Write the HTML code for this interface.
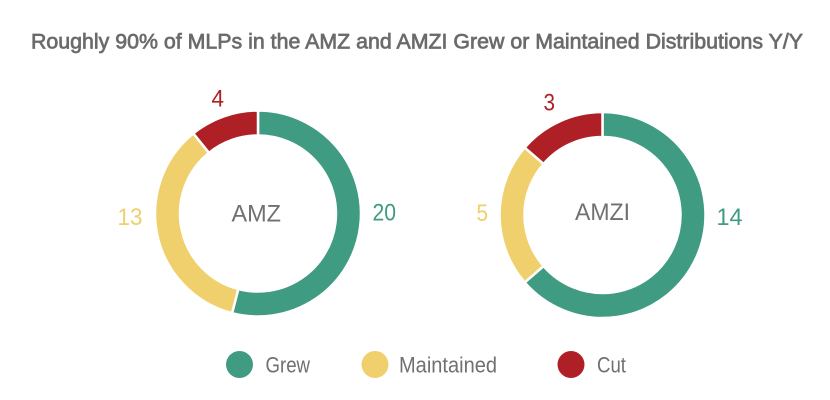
<!DOCTYPE html>
<html>
<head>
<meta charset="utf-8">
<style>
  html,body{margin:0;padding:0;background:#fff;}
  svg{display:block;}
  text{font-family:"Liberation Sans",sans-serif;}
</style>
</head>
<body>
<svg width="830" height="400" viewBox="0 0 830 400" xmlns="http://www.w3.org/2000/svg">
  <rect width="830" height="400" fill="#ffffff"/>
  <!-- Title -->
  <text x="31" y="48.5" font-size="21" fill="#6b6b6b" stroke="#6b6b6b" stroke-width="0.7" textLength="772" lengthAdjust="spacingAndGlyphs">Roughly 90% of MLPs in the AMZ and AMZI Grew or Maintained Distributions Y/Y</text>

  <!-- Donut 1 -->
  <g stroke="#ffffff" stroke-width="2.5" stroke-linejoin="miter">
    <path d="M258,110.5 A103,103 0 1 1 232.05,313.18 L238.35,288.99 A78,78 0 1 0 258,135.5 Z" fill="#3f9b82"/>
    <path d="M232.05,313.18 A103,103 0 0 1 193.29,133.39 L208.99,152.83 A78,78 0 0 0 238.35,288.99 Z" fill="#efd06c"/>
    <path d="M193.29,133.39 A103,103 0 0 1 258,110.5 L258,135.5 A78,78 0 0 0 208.99,152.83 Z" fill="#ae1f26"/>
  </g>
  <text x="231.5" y="221.7" font-size="24" fill="#707070" textLength="49.5" lengthAdjust="spacingAndGlyphs">AMZ</text>
  <text x="211.5" y="106.7" font-size="24" fill="#ae1f26" textLength="12.5" lengthAdjust="spacingAndGlyphs">4</text>
  <text x="117.5" y="225" font-size="24" fill="#efd06c" textLength="25" lengthAdjust="spacingAndGlyphs">13</text>
  <text x="372.5" y="220.7" font-size="24" fill="#3f9b82" textLength="23.5" lengthAdjust="spacingAndGlyphs">20</text>

  <!-- Donut 2 -->
  <g stroke="#ffffff" stroke-width="2.5" stroke-linejoin="miter">
    <path d="M602.5,112 A103,103 0 1 1 524.66,282.45 L543.56,266.08 A78,78 0 1 0 602.5,137 Z" fill="#3f9b82"/>
    <path d="M524.66,282.45 A103,103 0 0 1 524.66,147.55 L543.56,163.92 A78,78 0 0 0 543.56,266.08 Z" fill="#efd06c"/>
    <path d="M524.66,147.55 A103,103 0 0 1 602.5,112 L602.5,137 A78,78 0 0 0 543.56,163.92 Z" fill="#ae1f26"/>
  </g>
  <text x="575" y="220" font-size="24" fill="#707070" textLength="55" lengthAdjust="spacingAndGlyphs">AMZI</text>
  <text x="543.5" y="110.7" font-size="24" fill="#ae1f26" textLength="11.5" lengthAdjust="spacingAndGlyphs">3</text>
  <text x="476.5" y="221" font-size="24" fill="#efd06c" textLength="11.5" lengthAdjust="spacingAndGlyphs">5</text>
  <text x="716.5" y="225" font-size="24" fill="#3f9b82" textLength="26" lengthAdjust="spacingAndGlyphs">14</text>

  <!-- Legend -->
  <circle cx="239.5" cy="364.5" r="13.5" fill="#3f9b82"/>
  <text x="265.5" y="372.7" font-size="22" fill="#707070" textLength="44.5" lengthAdjust="spacingAndGlyphs">Grew</text>
  <circle cx="375" cy="364.5" r="13.5" fill="#efd06c"/>
  <text x="399" y="372.7" font-size="22" fill="#707070" textLength="98" lengthAdjust="spacingAndGlyphs">Maintained</text>
  <circle cx="571" cy="364.5" r="13.5" fill="#ae1f26"/>
  <text x="597" y="372.7" font-size="22" fill="#707070" textLength="29" lengthAdjust="spacingAndGlyphs">Cut</text>
</svg>
</body>
</html>
